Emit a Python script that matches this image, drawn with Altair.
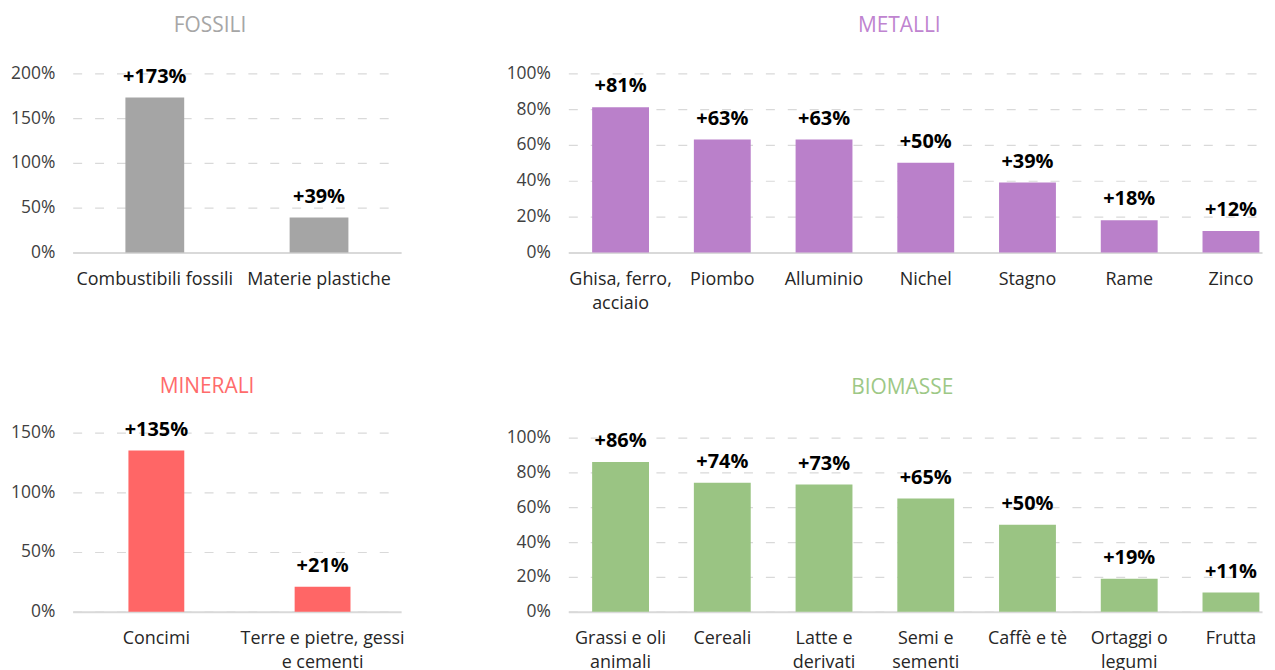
import altair as alt
import pandas as pd

FONT = "Open Sans"

# --- data ---
fossili_cats = ["Combustibili fossili", "Materie plastiche"]
fossili_vals = [173, 39]

metalli_cats = ["Ghisa, ferro,\nacciaio", "Piombo", "Alluminio", "Nichel", "Stagno", "Rame", "Zinco"]
metalli_vals = [81, 63, 63, 50, 39, 18, 12]

minerali_cats = ["Concimi", "Terre e pietre, gessi\ne cementi"]
minerali_vals = [135, 21]

biomasse_cats = ["Grassi e oli\nanimali", "Cereali", "Latte e\nderivati", "Semi e\nsementi",
                 "Caffè e tè", "Ortaggi o\nlegumi", "Frutta"]
biomasse_vals = [86, 74, 73, 65, 50, 19, 11]


def panel(cats, vals, color, title, title_color, ymax, ytop, ystep, width, height,
          pin, pout, palign, title_dx, title_offset):
    df = pd.DataFrame({"cat": cats, "val": vals,
                       "lab": ["+%d%%" % v for v in vals]})
    x = alt.X("cat:N", sort=cats,
              scale=alt.Scale(paddingInner=pin, paddingOuter=pout, align=palign),
              axis=alt.Axis(title=None, labelAngle=0, ticks=False,
                            domainColor="#D9D9D9", domainWidth=2,
                            labelFont=FONT, labelFontSize=18, labelColor="#262626",
                            labelPadding=18, labelLineHeight=24,
                            labelExpr="split(datum.label, '\\n')"))
    y = alt.Y("val:Q",
              scale=alt.Scale(domain=[0, ytop], nice=False),
              axis=alt.Axis(title=None, values=list(range(0, ymax + 1, ystep)),
                            labelExpr="datum.value + '%'", domain=False, ticks=False,
                            grid=True, gridDash=[9, 13], gridColor="#D9D9D9",
                            gridWidth=1.2,
                            labelFont=FONT, labelFontSize=17.5, labelColor="#404040",
                            labelPadding=18))
    base = alt.Chart(df)
    bars = base.mark_bar(color=color).encode(x=x, y=y)
    text = base.mark_text(font=FONT, fontWeight="bold", fontSize=20, color="#000000",
                          baseline="alphabetic", dy=-15).encode(x=x, y=y, text="lab:N")
    return (bars + text).properties(
        width=width, height=height,
        title=alt.TitleParams(title, font=FONT, fontSize=21, fontWeight="normal",
                              color=title_color, anchor="middle", dx=title_dx,
                              offset=title_offset))


f = panel(fossili_cats, fossili_vals, "#A5A5A5", "FOSSILI", "#A6A6A6", 200, 200, 50,
          330, 180, 0.642, 0.321, 0.5, -27, 28)
m = panel(metalli_cats, metalli_vals, "#BA80CA", "METALLI", "#BF84D0", 100, 100, 20,
          697, 180, 0.441, 0.13, 0.9, -16, 28)
mi = panel(minerali_cats, minerali_vals, "#FF6666", "MINERALI", "#FF6B6B", 150, 150, 50,
           330, 180, 0.664, 0.32, 0.524, -30, 23)
b = panel(biomasse_cats, biomasse_vals, "#9AC483", "BIOMASSE", "#9DC886", 100, 102.86, 20,
          697, 180, 0.441, 0.13, 0.9, -13, 31)

chart = alt.concat(
    f, m, mi, b, columns=2, bounds="flush",
    spacing={"row": 181, "column": 168},
).properties(
    padding={"left": 2, "top": 6, "right": 5, "bottom": 5}
).configure(font=FONT).configure_view(stroke=None)

chart.save("out.html", embed_options={"renderer": "svg", "actions": False})
